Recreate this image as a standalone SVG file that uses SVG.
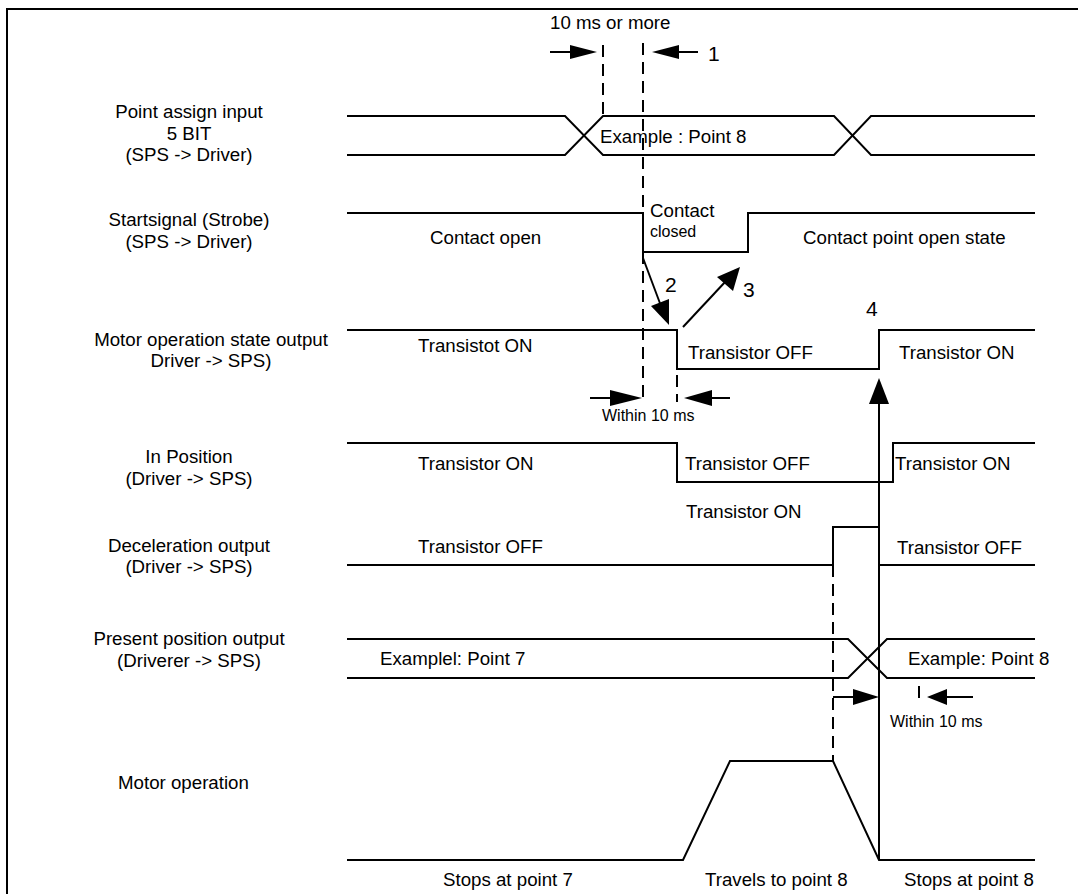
<svg xmlns="http://www.w3.org/2000/svg" width="1078" height="894" viewBox="0 0 1078 894">
<style>
text{font-family:"Liberation Sans",Arial,sans-serif;font-size:18.7px;fill:#000}
.s{font-size:16px}
.n{font-size:21px}
.m{text-anchor:middle}
.w{fill:none;stroke:#000;stroke-width:2}
.d{fill:none;stroke:#000;stroke-width:2;stroke-dasharray:12 7}
.a{fill:none;stroke:#000;stroke-width:2}
.h{fill:#000;stroke:none}
</style>
<rect width="1078" height="894" fill="#fff"/>
<path class="w" d="M7,894 V9 H1078"/>
<g id="point-assign">
<text class="m" x="189" y="118">Point assign input</text>
<text class="m" x="189" y="140">5 BIT</text>
<text class="m" x="189" y="161">(SPS -&gt; Driver)</text>
<path class="w" d="M347,116 H565 L603,155 H834 L871,116 H1035"/>
<path class="w" d="M347,155 H565 L603,116 H834 L871,155 H1035"/>
<text x="600" y="143">Example : Point 8</text>
</g>
<g id="strobe">
<text class="m" x="189" y="226">Startsignal (Strobe)</text>
<text class="m" x="189" y="248">(SPS  -&gt; Driver)</text>
<path class="w" d="M347,213 H643 V252 H748 V213 H1035"/>
<text x="430" y="244">Contact open</text>
<text x="650" y="217">Contact</text>
<text class="s" x="650" y="237">closed</text>
<text x="803" y="244">Contact point open state</text>
</g>
<g id="motor-state">
<text class="m" x="211" y="346">Motor operation state output</text>
<text class="m" x="211" y="367">Driver -&gt; SPS)</text>
<path class="w" d="M347,330 H677 V369 H879 V330 H1035"/>
<text x="418" y="352">Transistot ON</text>
<text x="688" y="359">Transistor OFF</text>
<text x="899" y="359">Transistor ON</text>
</g>
<g id="in-position">
<text class="m" x="189" y="463">In Position</text>
<text class="m" x="189" y="485">(Driver -&gt; SPS)</text>
<path class="w" d="M347,443 H677 V482 H893 V443 H1035"/>
<text x="418" y="470">Transistor ON</text>
<text x="685" y="470">Transistor OFF</text>
<text x="895" y="470">Transistor ON</text>
</g>
<g id="deceleration">
<text class="m" x="189" y="552">Deceleration output</text>
<text class="m" x="189" y="573">(Driver -&gt; SPS)</text>
<path class="w" d="M347,565 H833 V527 H879 V565 H1035"/>
<text x="686" y="518">Transistor ON</text>
<text x="418" y="553">Transistor  OFF</text>
<text x="897" y="554">Transistor OFF</text>
</g>
<g id="present-position">
<text class="m" x="189" y="645">Present  position output</text>
<text class="m" x="189" y="667">(Driverer -&gt; SPS)</text>
<path class="w" d="M347,639 H848 L887,678 H1035"/>
<path class="w" d="M347,678 H848 L887,639 H1035"/>
<text x="380" y="665">Examplel: Point 7</text>
<text x="908" y="665">Example: Point 8</text>
</g>
<g id="motor-operation">
<text x="118" y="789">Motor operation</text>
<path class="w" d="M347,860 H683 L730,761 H833 L879,860 H1035"/>
<text x="443" y="886">Stops at point 7</text>
<text x="705" y="886">Travels to point 8</text>
<text x="904" y="886">Stops at point 8</text>
</g>
<g id="connectors">
<path class="d" d="M603,45 V116"/>
<path class="d" d="M643,43 V403"/>
<path class="d" d="M677,375 V402"/>
<path class="d" d="M833,565 V761"/>
<path class="d" d="M919,686 V702"/>
<path class="a" d="M550,52 H572"/>
<polygon class="h" points="597,52 570,45 570,59"/>
<path class="a" d="M676,52 H698"/>
<polygon class="h" points="652,52 679,45 679,59"/>
<path class="a" d="M643,258 L661,306"/>
<polygon class="h" points="669,325 651,306 669,299"/>
<path class="a" d="M683,327 L726,281"/>
<polygon class="h" points="740,267 733,291 717,277"/>
<path class="a" d="M590,398 H612"/>
<polygon class="h" points="642,398 610,390 610,406"/>
<path class="a" d="M710,398 H730"/>
<polygon class="h" points="684,398 712,390 712,406"/>
<path class="a" d="M833,697 H855"/>
<polygon class="h" points="879,697 853,689 853,705"/>
<path class="a" d="M943,697 H973"/>
<polygon class="h" points="927,697 947,689 947,705"/>
<path class="a" d="M879,860 V400"/>
<polygon class="h" points="879,378 869,404 889,404"/>
<text x="550" y="29">10 ms or more</text>
<text class="n" x="708" y="61">1</text>
<text class="n" x="665" y="292">2</text>
<text class="n" x="743" y="297">3</text>
<text class="n" x="866" y="316">4</text>
<text class="s" x="602" y="421">Within 10 ms</text>
<text class="s" x="890" y="727">Within 10 ms</text>
</g>
</svg>
